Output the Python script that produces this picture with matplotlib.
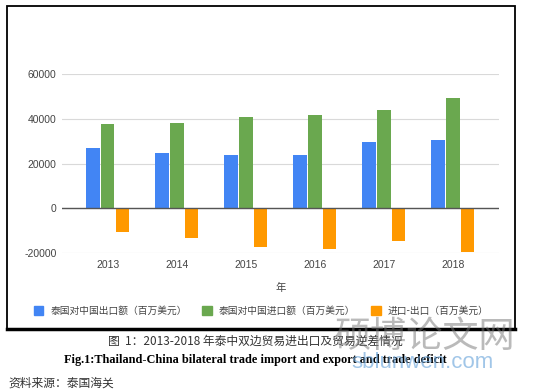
import numpy as np
import matplotlib.pyplot as plt
from matplotlib.patches import Rectangle
from matplotlib.lines import Line2D

plt.rcParams['font.family'] = ['Liberation Sans', 'Noto Sans CJK SC', 'DejaVu Sans']
plt.rcParams['axes.unicode_minus'] = False

# 数据（百万美元）
years = ['2013', '2014', '2015', '2016', '2017', '2018']
export_cn = [27000, 24600, 23600, 23600, 29400, 30300]
import_cn = [37500, 38000, 40600, 41600, 43800, 49300]
balance = [-10600, -13300, -17300, -18300, -14800, -19700]
names = ['泰国对中国出口额（百万美元）', '泰国对中国进口额（百万美元）', '进口-出口（百万美元）']
colors = ['#4285F4', '#6AA84F', '#FF9900']

W, H = 540, 391
fig = plt.figure(figsize=(5.4, 3.91), dpi=100)
ax = fig.add_axes([62 / W, 1 - 253 / H, 437 / W, (253 - 74) / H])

x = np.arange(len(years))
w = 0.2
step = 0.215
for i, vals in enumerate([export_cn, import_cn, balance]):
    ax.bar(x + (i - 1) * step, vals, width=w, color=colors[i], label=names[i], zorder=3)

ax.set_xlim(-0.66, 5.67)
ax.set_ylim(-20000, 60000)
ax.set_yticks([-20000, 0, 20000, 40000, 60000])
ax.set_xticks(x)
ax.set_xticklabels(years)
ax.grid(axis='y', color='#d9d9d9', linewidth=0.8, zorder=0)
ax.axhline(0, color='#555555', linewidth=1.0, zorder=4)
for s in ax.spines.values():
    s.set_visible(False)
ax.tick_params(length=0, labelsize=7.5, colors='#444444', pad=4)
ax.tick_params(axis='x', pad=5)

fig.text(281 / W, 1 - 288 / H, '年', ha='center', va='center', fontsize=7.5,
         color='#444444', family=['Noto Sans CJK SC'])

handles = [Rectangle((0, 0), 1, 1, color=c) for c in colors]
fig.legend(handles, names, loc='center', bbox_to_anchor=(261 / W, 1 - 311 / H), ncol=3,
           frameon=False, handlelength=1.0, handleheight=1.0,
           handletextpad=0.7, columnspacing=1.6, prop={'family': 'Noto Sans CJK SC', 'size': 7})
for t in fig.legends[0].get_texts():
    t.set_color('#444444')

# 图表外框
fig.add_artist(Rectangle((7 / W, 1 - 329 / H), 508 / W, 323 / H, transform=fig.transFigure,
                         fill=False, edgecolor='black', linewidth=1.3))
fig.add_artist(Line2D([7 / W, 515 / W], [1 - 329 / H, 1 - 329 / H], transform=fig.transFigure,
                      color='black', linewidth=2.5))

# 图注
fig.text(255 / W, 1 - 341 / H, '图  1：2013-2018 年泰中双边贸易进出口及贸易逆差情况', ha='center',
         va='center', fontsize=8.5, color='#333333', family=['Noto Sans CJK SC'])
fig.text(255 / W, 1 - 360 / H,
         'Fig.1:Thailand-China bilateral trade import and export and trade deficit',
         ha='center', va='center', fontsize=8.8, fontweight='bold', color='black',
         family=['Liberation Serif'])
fig.text(8 / W, 1 - 383 / H, '资料来源：泰国海关', ha='left', va='center', fontsize=8.5,
         color='#333333', family=['Noto Sans CJK SC'])

# 水印
fig.text(425 / W, 1 - 337 / H, '硕博论文网', ha='center', va='center', fontsize=26,
         color='#777777', alpha=0.5, family=['Noto Sans CJK SC'])
fig.text(422 / W, 1 - 363 / H, 'sblunwen.com', ha='center', va='center', fontsize=16,
         color='#6fa8dc', alpha=0.65, family=['Liberation Sans'])

fig.savefig('out.png', dpi=100)
